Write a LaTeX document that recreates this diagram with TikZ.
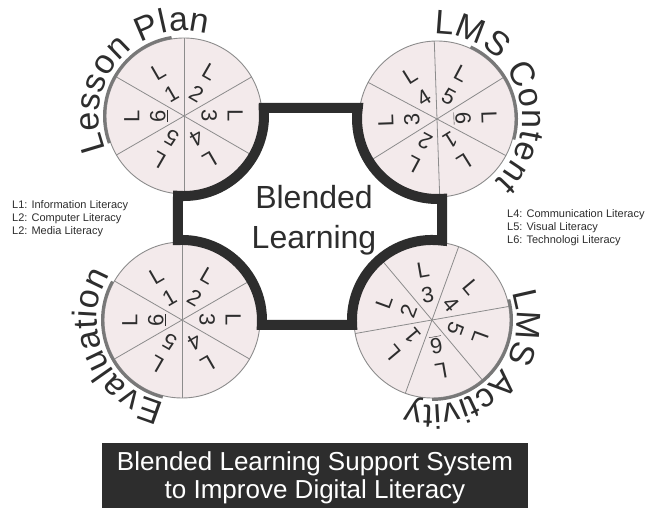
\documentclass[tikz,border=0pt]{standalone}
\usepackage{fontspec}
\setmainfont{Liberation Sans}
\usetikzlibrary{decorations.text,calc}
\definecolor{pie}{RGB}{243,234,235}
\definecolor{rim}{RGB}{140,140,140}
\definecolor{ink}{RGB}{45,45,45}
\definecolor{rimshade}{RGB}{120,120,120}
\newcommand\arcfont{\fontsize{34}{36}\selectfont\color{ink}}
\begin{document}
\begin{tikzpicture}[x=1pt,y=1pt,
  piedisc/.style={fill=pie, draw=rim, line width=0.9pt},
  spoke/.style={draw=rim, line width=0.8pt},
  rimarc/.style={draw=rimshade, line width=3pt},
  plabel/.style={font=\fontsize{22}{26}\selectfont, text=ink, align=center, inner sep=0pt},
  legend/.style={font=\fontsize{11}{13}\selectfont, text=ink, align=left, anchor=west, inner sep=0pt},
  hub/.style={fill=white, draw=ink, line width=10pt, line join=miter},
  arctext/.style={decorate, decoration={text along path, text align={fit to path}}}
]
\useasboundingbox (0,0) rectangle (659,508);
\coordinate (c1) at (184,392);
\coordinate (c2) at (437,389);
\coordinate (c3) at (182,188);
\coordinate (c4) at (432,188);

% pies
\foreach \c in {c1,c2,c3,c4} \draw[piedisc] (\c) circle[radius=78];
\foreach \a in {30,90,...,330} {\draw[spoke] (c1) -- ++(\a:78); \draw[spoke] (c3) -- ++(\a:78);}
\foreach \a in {32,92,...,332} \draw[spoke] (c2) -- ++(\a:78);
\foreach \a in {10,70,...,310} \draw[spoke] (c4) -- ++(\a:78);

\foreach \t/\n [count=\i] in {120/1,60/2,0/3,300/4,240/5,180/\underline{6}} {
  \node[plabel, rotate=\t-90] (p1l\i) at ($(c1)+(\t:38)$) {L\\\n};
  \node[plabel, rotate=\t-90] (p3l\i) at ($(c3)+(\t:38)$) {L\\\n};
}
\foreach \t/\n [count=\i] in {302/1,242/2,182/3,122/4,62/5,2/\underline{6}}
  \node[plabel, rotate=\t-90] (p2l\i) at ($(c2)+(\t:38)$) {L\\\n};
\foreach \t/\n [count=\i] in {220/1,160/2,100/3,40/4,340/5,280/\underline{6}}
  \node[plabel, rotate=\t-90] (p4l\i) at ($(c4)+(\t:38)$) {L\\\n};

% shaded rims
\draw[rimarc] (c1) ++(99:79.5) arc[start angle=99, end angle=200, radius=79.5];
\draw[rimarc] (c2) ++(65:79.5) arc[start angle=65, end angle=-15, radius=79.5];
\draw[rimarc] (c3) ++(151:79.5) arc[start angle=151, end angle=256, radius=79.5];
\draw[rimarc] (c4) ++(15:79.5) arc[start angle=15, end angle=-90, radius=79.5];

% curved titles
\path[arctext, decoration={text={|\arcfont|Lesson Plan}}] (c1) ++(203:85) arc[start angle=203, end angle=74, radius=85];
\path[arctext, decoration={text={|\arcfont|LMS Content}}] (c2) ++(92:85) arc[start angle=92, end angle=-47, radius=85];
\path[arctext, decoration={text={|\arcfont|Evaluation}}] (c3) ++(258:85) arc[start angle=258, end angle=148, radius=85];
\path[arctext, decoration={text={|\arcfont|LMS Activity}}] (c4) ++(19:85) arc[start angle=19, end angle=-106, radius=85];

% central hub
\draw[hub] (263.6,400) -- (357.8,400) arc[start angle=172.1, end angle=273.6, radius=80]
  -- (442,267.4) arc[start angle=82.8, end angle=183.6, radius=80]
  -- (261.8,183) arc[start angle=-3.6, end angle=92.9, radius=80]
  -- (178,312.2) arc[start angle=-94.3, end angle=5.7, radius=80] -- cycle;
\node[font=\fontsize{32}{40}\selectfont, text=ink, align=center] (core) at (314,288) {Blended\\Learning};

% legends
\node[legend] (legL) at (12,289) {L1: Information Literacy\\L2: Computer Literacy\\L2: Media Literacy};
\node[legend] (legR) at (507,280) {L4: Communication Literacy\\L5: Visual Literacy\\L6: Technologi Literacy};

% banner
\fill[ink] (102,0) rectangle (528,65);
\node[font=\fontsize{26}{28}\selectfont, text=white, align=center] (banner) at (315,30) {Blended Learning Support System\\to Improve Digital Literacy};
\end{tikzpicture}
\end{document}
